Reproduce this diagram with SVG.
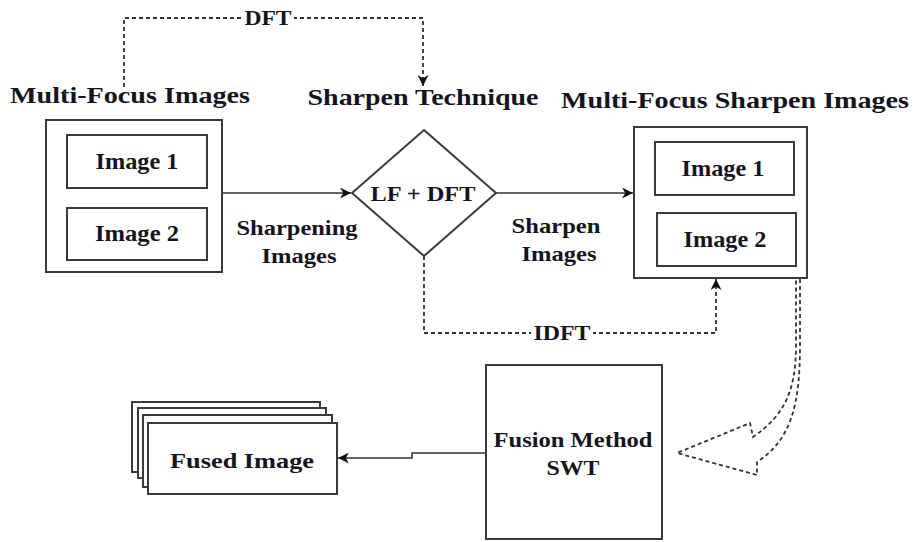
<svg xmlns="http://www.w3.org/2000/svg" width="914" height="542" viewBox="0 0 914 542">
<defs>
<style>
.t{font-family:"Liberation Serif",serif;font-weight:700;fill:#141420;text-anchor:middle}
.box{fill:#fff;stroke:#3a3a3a;stroke-width:2}
.ln{fill:none;stroke:#333;stroke-width:1.6}
.dash{fill:none;stroke:#333;stroke-width:1.8;stroke-dasharray:4 3}
.bg{fill:#fff}
</style>
<marker id="ah2" viewBox="0 0 10 10" refX="10" refY="5" markerWidth="11" markerHeight="11" orient="auto" markerUnits="userSpaceOnUse">
<path d="M0,0 L10,5 L0,10 L3,5 z" fill="#111"/>
</marker>
</defs>
<rect width="914" height="542" fill="#fff"/>

<g id="connectors">
<path class="dash" d="M124,87 V18 H423 V86" marker-end="url(#ah2)"/>
<path class="ln" d="M222,193 H351" marker-end="url(#ah2)"/>
<path class="ln" d="M496,193 H633" marker-end="url(#ah2)"/>
<path class="dash" d="M424,256 V333 H716 V279" marker-end="url(#ah2)"/>
<path class="ln" d="M486,453 H412 V458 H338" marker-end="url(#ah2)"/>
<path class="dash" d="M800,279 L800,345 C800,405 791,440 757,462 L757,475 L677,453 L750,423 L753,437 C785,415 796,390 796,345 L796,279"/>
</g>

<g id="multi-focus-images">
<text class="t" x="130" y="103" font-size="24" textLength="240" lengthAdjust="spacingAndGlyphs">Multi-Focus Images</text>
<rect class="box" x="46" y="120" width="176" height="152"/>
<g id="img1-left"><rect class="box" x="67" y="135" width="140" height="53"/>
<text class="t" x="137" y="169" font-size="22.5" textLength="83" lengthAdjust="spacingAndGlyphs">Image 1</text></g>
<g id="img2-left"><rect class="box" x="67" y="208" width="140" height="52"/>
<text class="t" x="137" y="241" font-size="22.5" textLength="84" lengthAdjust="spacingAndGlyphs">Image 2</text></g>
</g>

<g id="sharpen-technique">
<text class="t" x="423" y="105" font-size="24" textLength="231" lengthAdjust="spacingAndGlyphs">Sharpen Technique</text>
<polygon class="box" points="424,130 496,193 424,256 352,193"/>
<text class="t" x="423" y="201" font-size="22" textLength="105" lengthAdjust="spacingAndGlyphs">LF + DFT</text>
</g>

<g id="multi-focus-sharpen-images">
<text class="t" x="735" y="108" font-size="24" textLength="348" lengthAdjust="spacingAndGlyphs">Multi-Focus Sharpen Images</text>
<rect class="box" x="634" y="127" width="173" height="151"/>
<g id="img1-right"><rect class="box" x="655" y="142" width="139" height="53"/>
<text class="t" x="723" y="176" font-size="22.5" textLength="83" lengthAdjust="spacingAndGlyphs">Image 1</text></g>
<g id="img2-right"><rect class="box" x="657" y="213" width="139" height="53"/>
<text class="t" x="725" y="247" font-size="22.5" textLength="83" lengthAdjust="spacingAndGlyphs">Image 2</text></g>
</g>

<g id="labels">
<rect class="bg" x="243" y="8" width="51" height="20"/>
<text class="t" x="268" y="25" font-size="22" textLength="47" lengthAdjust="spacingAndGlyphs">DFT</text>
<rect class="bg" x="531" y="323" width="62" height="20"/>
<text class="t" x="562" y="340" font-size="22" textLength="57" lengthAdjust="spacingAndGlyphs">IDFT</text>
<text class="t" x="297" y="235" font-size="21" textLength="121" lengthAdjust="spacingAndGlyphs">Sharpening</text>
<text class="t" x="299" y="263" font-size="21" textLength="75" lengthAdjust="spacingAndGlyphs">Images</text>
<text class="t" x="556" y="233" font-size="21" textLength="89" lengthAdjust="spacingAndGlyphs">Sharpen</text>
<text class="t" x="559" y="261" font-size="21" textLength="75" lengthAdjust="spacingAndGlyphs">Images</text>
</g>

<g id="fusion-method">
<rect class="box" x="486" y="365" width="176" height="174"/>
<text class="t" x="573" y="447" font-size="22" textLength="159" lengthAdjust="spacingAndGlyphs">Fusion Method</text>
<text class="t" x="573" y="475" font-size="22" textLength="53" lengthAdjust="spacingAndGlyphs">SWT</text>
</g>

<g id="fused-image">
<rect class="box" x="132" y="402" width="188" height="70"/>
<rect class="box" x="138" y="408" width="188" height="70"/>
<rect class="box" x="143" y="415" width="189" height="72"/>
<rect class="box" x="148" y="423" width="189" height="71"/>
<text class="t" x="242" y="468" font-size="22" textLength="144" lengthAdjust="spacingAndGlyphs">Fused Image</text>
</g>
</svg>
